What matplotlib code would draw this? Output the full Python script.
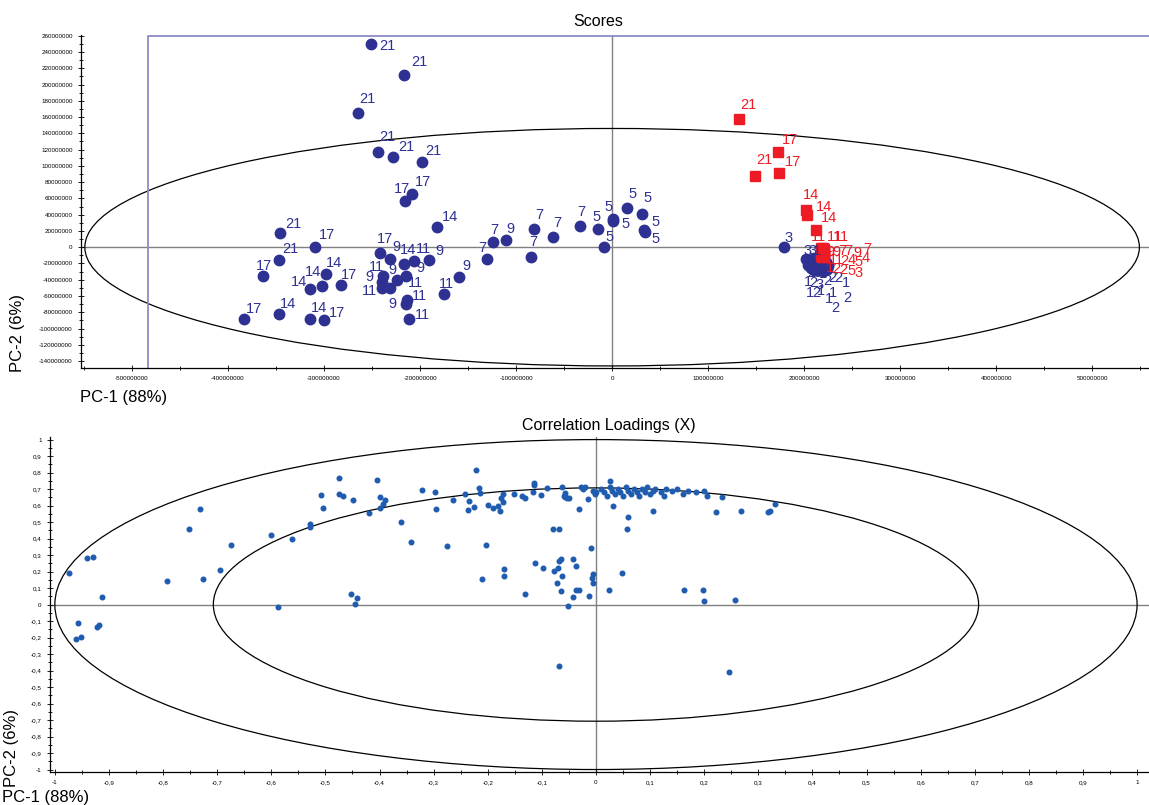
# ============================================================
# PCA scores and correlation loadings, two stacked panels.
# ============================================================

import numpy as np
import matplotlib.pyplot as plt
from matplotlib.patches import Ellipse
from matplotlib.ticker import MultipleLocator, FuncFormatter

plt.rcParams["font.family"] = ["Liberation Sans", "DejaVu Sans"]


# ============================================================
# Scores data (values in millions), blue = circles, red = squares.
# ============================================================

blue_x = [
    -251, -217, -265, -244, -228, -198, -208, -216, -182, -346,
    -309, -347, -364, -298, -302, -315, -282, -383, -347, -315,
    -300, -242, -231, -217, -206, -191, -239, -240, -224, -215,
    -240, -231, -214, -215, -211, -175, -159, -124, -130.5, -110,
    -81.6, -84.7, -61.8, -33, -15, -8, 0.7, 1.4, 16, 31.6,
    33.6, 34.4, 179,
    202.1, 206.3, 210.4, 204.2, 211.5, 216.7, 220.8, 222.9, 225.0, 207.3,
    210.4, 214.6, 218.8, 208.3, 213.5, 217.7, 221.9, 224.0, 219.8, 215.6,
]
blue_y = [
    250, 212, 165, 117, 111, 105, 65, 57, 24.5, 18,
    0, -16, -36, -33.5, -47.5, -51, -46.6, -88, -82, -88,
    -90, -7.7, -15, -20.5, -16.8, -16, -35.6, -42.5, -40.5, -35.6,
    -50.7, -50, -65, -70, -88, -57, -36.8, 6.5, -15, 8.6,
    22.5, -12.6, 12.3, 26, 22, 0, 35, 32.3, 48.7, 41,
    21, 18.8, 0.4,
    -14.7, -18.4, -13.5, -22.1, -23.3, -19.6, -23.3, -18.4, -23.3, -25.8,
    -28.2, -28.2, -25.8, -20.9, -18.4, -14.7, -28.2, -27.0, -29.4, -24.5,
]
blue_labels = [
    "21", "21", "21", "21", "21", "21", "17", "17", "14", "21",
    "17", "21", "17", "14", "14", "14", "17", "17", "14", "14",
    "17", "17", "9", "14", "11", "9", "11", "9", "9", "9",
    "11", "11", "11", "9", "11", "11", "9", "7", "7", "9",
    "7", "7", "7", "7", "5", "5", "5", "5", "5", "5",
    "5", "5", "3",
    "3", "3", "1", "2", "3", "1", "2", "2", "1", "1",
    "2", "3", "2", "1", "2", "1", "1", "2", "1", "2",
]

red_x = [
    132.6, 172.9, 148.6, 173.6, 202.1, 203.4, 212.2,
    217.7, 219.8, 220.8, 217.7, 218.75, 219.8, 220.8, 219.8, 220.8,
    217.7, 218.75, 219.8, 220.8, 220.8, 217.7, 218.75, 219.8, 220.8, 218.75,
]
red_y = [
    157.1, 116.9, 87.5, 91.7, 46.3, 40.1, 20.9,
    -1.2, -1.2, -2.5, -3.7, -4.9, -3.7, -6.1, -7.4, -4.9,
    -7.4, -8.6, -9.8, -9.8, -8.6, -11.0, -12.3, -12.3, -11.0, -11.0,
]
red_labels = [
    "21", "17", "21", "17", "14", "14", "14",
    "11", "11", "11", "9", "9", "7", "7", "9", "7",
    "11", "2", "4", "5", "4", "1", "2", "2", "5", "3",
]

# label offsets in pixels (label centre relative to the point)
blue_offsets = [
    (16.7, -2.3), (15.7, 13), (10, 14), (10, 14.7), (13, 10.3), (11.3, 11.3),
    (11, 12.3), (-2.7, 12), (13, 10.3), (13.3, 9), (11.7, 12.3), (11.3, 11),
    (1.7, 10), (7.7, 11.7), (-8.7, 14), (-11, 6.3), (7.3, 10), (9.3, 9.7),
    (8.7, 9.7), (9.7, 10.7), (13.3, 7.3), (5.3, 14.3), (5.7, 12.7), (4.7, 14.3),
    (9, 12.3), (10.3, 9.3), (-6, 9.3), (-12.3, 5), (-5, 10), (14.7, 7.7),
    (-11.7, -2.3), (24.7, 5), (13.3, 4), (-12.7, 0.3), (12.7, 3.7), (2.3, 10),
    (7.3, 11), (1.3, 12.3), (-4, 11.7), (4.3, 11.7), (5.3, 13.7), (2.7, 15.7),
    (4.7, 14.3), (0.7, 14), (-1, 12.3), (5, 10), (-4.3, 11.7), (11.7, -2.7),
    (5, 14), (5.3, 15.7), (10.7, 8.3), (10.7, -6.7), (4.3, 9.3),
    (1.7, 8.3), (2.3, 11.3), (2.7, 7.3), (3, -8.3), (2.7, -7.3), (2.7, -11),
    (7.7, -12.3), (12.3, -15.7), (18, -16.7), (-3.3, -13.7), (-0.7, -13.3),
    (1.3, -15), (4.7, -13), (-2, -28.7), (-1, -31.3), (0, -32), (8, -23.3),
    (20.3, -29.3), (5.3, -28.3), (16, -41.3),
]
red_offsets = [
    (9, 14), (12, 11.7), (9.6, 15.7), (14.6, 10.6), (4.7, 14.3), (16.7, 7.6),
    (13.3, 11.7),
    (-3, 11), (11, 11), (17, 12), (9, -2), (14, -1), (19, -1), (24, 1),
    (34, 0), (43, 2), (15, -7), (22, -7), (28, -5), (34, -7), (42, -4),
    (9, -12), (14, -12), (20, -13), (27, -15), (36, -17),
]


# ============================================================
# Correlation loadings data.
# ============================================================

load_x = [
    -0.973, -0.940, -0.930, -0.913, -0.958, -0.922, -0.919, -0.952, -0.960,
    -0.793, -0.753, -0.732, -0.726, -0.695, -0.675, -0.601, -0.588, -0.561,
    -0.529, -0.529, -0.509, -0.504, -0.474, -0.474, -0.467, -0.449, -0.453,
    -0.442, -0.446, -0.419, -0.405, -0.400, -0.399, -0.393, -0.389, -0.360,
    -0.342, -0.322, -0.297, -0.295, -0.276, -0.265, -0.242, -0.234, -0.236,
    -0.226, -0.221, -0.216, -0.214, -0.211, -0.204, -0.199, -0.191, -0.181,
    -0.177, -0.176, -0.171, -0.171, -0.170, -0.170, -0.152, -0.137, -0.131,
    -0.131, -0.115, -0.115, -0.117, -0.113, -0.102, -0.097, -0.090, -0.080,
    -0.068, -0.077, -0.072, -0.070, -0.068, -0.065, -0.065, -0.063, -0.063,
    -0.060, -0.057, -0.054, -0.050, -0.058, -0.052, -0.043, -0.043, -0.037,
    -0.036, -0.032, -0.032, -0.028, -0.024, -0.020, -0.014, -0.013, -0.010,
    -0.008, -0.006, -0.006, -0.005, -0.002, 0.000,
    0.010, 0.015, 0.020, 0.025, 0.030, 0.035, 0.040, 0.045, 0.050, 0.055,
    0.060, 0.065, 0.070, 0.075, 0.080, 0.085, 0.090, 0.095, 0.100, 0.105,
    0.110, 0.120, 0.125, 0.130, 0.140, 0.150, 0.160, 0.170, 0.185, 0.200,
    0.205, 0.031, 0.059, 0.057, 0.105, 0.048, 0.024, 0.163, 0.198, 0.200,
    0.257, 0.222, 0.268, 0.318, 0.322, 0.331, 0.233, -0.068, 0.246, 0.026,
]
load_y = [
    0.189, 0.284, 0.288, 0.045, -0.114, -0.136, -0.124, -0.199, -0.211,
    0.144, 0.459, 0.577, 0.153, 0.207, 0.361, 0.419, -0.015, 0.395,
    0.488, 0.468, 0.662, 0.587, 0.765, 0.672, 0.658, 0.633, 0.064,
    0.041, 0.001, 0.553, 0.755, 0.652, 0.587, 0.609, 0.632, 0.498,
    0.381, 0.694, 0.680, 0.581, 0.357, 0.633, 0.670, 0.627, 0.573,
    0.593, 0.815, 0.708, 0.676, 0.153, 0.361, 0.601, 0.585, 0.597,
    0.568, 0.647, 0.621, 0.668, 0.213, 0.173, 0.668, 0.658, 0.647,
    0.065, 0.735, 0.723, 0.680, 0.250, 0.662, 0.219, 0.708, 0.456,
    0.456, 0.201, 0.130, 0.222, 0.267, 0.277, 0.082, 0.173, 0.714,
    0.660, 0.650, 0.645, 0.645, 0.675, -0.007, 0.277, 0.047, 0.233,
    0.088, 0.088, 0.581, 0.715, 0.700, 0.710, 0.638, 0.053, 0.344,
    0.161, 0.185, 0.132, 0.690, 0.670, 0.685,
    0.700, 0.680, 0.660, 0.710, 0.690, 0.670, 0.700, 0.680, 0.660, 0.710,
    0.690, 0.670, 0.700, 0.680, 0.660, 0.700, 0.680, 0.710, 0.670, 0.690,
    0.700, 0.680, 0.660, 0.700, 0.690, 0.700, 0.670, 0.690, 0.680, 0.690,
    0.660, 0.600, 0.530, 0.460, 0.570, 0.190, 0.090, 0.088, 0.088, 0.020,
    0.027, 0.560, 0.570, 0.560, 0.570, 0.610, 0.650, -0.370, -0.410, 0.750,
]


# ============================================================
# Figure layout.
# ============================================================

BLUE = "#2E3192"
RED = "#ED1C24"
DOT = "#1F5CB0"
GRID = "#808080"

fig = plt.figure(figsize=(11.49, 8.05), dpi=100)

ax1 = fig.add_axes([0.0705, 0.5429, 0.9295, 0.4137])
ax2 = fig.add_axes([0.0435, 0.0410, 0.9565, 0.4160])

for ax in (ax1, ax2):
    ax.spines["top"].set_visible(False)
    ax.spines["right"].set_visible(False)
    ax.spines["left"].set_linewidth(0.9)
    ax.spines["bottom"].set_linewidth(0.9)
    ax.tick_params(which="both", labelsize=4.5, direction="inout", width=0.6)
    ax.tick_params(which="major", length=5)
    ax.tick_params(which="minor", length=3)


# ============================================================
# Scores panel.
# ============================================================

M = 1e6
ax1.set_xlim(-553 * M, 559 * M)
ax1.set_ylim(-148.5 * M, 261 * M)

ax1.axhline(0, color=GRID, lw=1, zorder=1)
ax1.axvline(0, color=GRID, lw=1, zorder=1)
ax1.add_patch(Ellipse((0, 0), 2 * 549 * M, 2 * 146 * M,
                      fill=False, ec="black", lw=0.9, zorder=1))

# selection frame
ax1.plot([-483 * M, -483 * M, 560 * M], [-148.5 * M, 260 * M, 260 * M],
         color="#8c8cc8", lw=1.3, clip_on=False, zorder=1)

ax1.plot(np.array(blue_x) * M, np.array(blue_y) * M, "o", color=BLUE,
         ms=7.5, mec=BLUE, zorder=3)
ax1.plot(np.array(red_x) * M, np.array(red_y) * M, "s", color=RED,
         ms=7.5, mec=RED, zorder=4)

for x, y, lab, off in zip(blue_x, blue_y, blue_labels, blue_offsets):
    ax1.annotate(lab, (x * M, y * M), xytext=off, textcoords="offset pixels",
                 ha="center", va="center", fontsize=10.5, color=BLUE, zorder=5)

for x, y, lab, off in zip(red_x, red_y, red_labels, red_offsets):
    ax1.annotate(lab, (x * M, y * M), xytext=off, textcoords="offset pixels",
                 ha="center", va="center", fontsize=10.5, color=RED, zorder=5)

ax1.xaxis.set_major_locator(MultipleLocator(100 * M))
ax1.xaxis.set_minor_locator(MultipleLocator(50 * M))
ax1.yaxis.set_major_locator(MultipleLocator(20 * M))
ax1.yaxis.set_minor_locator(MultipleLocator(10 * M))
ax1.xaxis.set_major_formatter(FuncFormatter(lambda v, p: f"{v:.0f}"))
ax1.yaxis.set_major_formatter(FuncFormatter(lambda v, p: f"{v:.0f}"))


# ============================================================
# Correlation loadings panel.
# ============================================================

ax2.set_xlim(-1.009, 1.022)
ax2.set_ylim(-1.015, 1.015)

ax2.axhline(0, color=GRID, lw=1, zorder=1)
ax2.axvline(0, color=GRID, lw=1, zorder=1)
ax2.add_patch(Ellipse((0, 0), 2, 2, fill=False, ec="black", lw=0.9))
r = np.sqrt(0.5)
ax2.add_patch(Ellipse((0, 0), 2 * r, 2 * r, fill=False, ec="black", lw=0.9))

ax2.plot(load_x, load_y, "o", color=DOT, ms=3.3, mec=DOT, zorder=3)


def comma_fmt(v, pos):
    if abs(v - round(v)) < 1e-9:
        return f"{round(v):d}"
    return f"{v:.1f}".replace(".", ",")


ax2.xaxis.set_major_locator(MultipleLocator(0.1))
ax2.xaxis.set_minor_locator(MultipleLocator(0.05))
ax2.yaxis.set_major_locator(MultipleLocator(0.1))
ax2.yaxis.set_minor_locator(MultipleLocator(0.05))
ax2.xaxis.set_major_formatter(FuncFormatter(comma_fmt))
ax2.yaxis.set_major_formatter(FuncFormatter(comma_fmt))


# ============================================================
# Titles and axis labels.
# ============================================================

W, H = 1149, 805

fig.text(598 / W, 1 - 22 / H, "Scores", ha="center", va="center", fontsize=11.5)
fig.text(609 / W, 1 - 425 / H, "Correlation Loadings (X)",
         ha="center", va="center", fontsize=11.5)

fig.text(18 / W, 1 - 333 / H, "PC-2 (6%)", rotation=90,
         ha="center", va="center", fontsize=12)
fig.text(80 / W, 1 - 397 / H, "PC-1 (88%)", ha="left", va="center", fontsize=12)
fig.text(12 / W, 1 - 748 / H, "PC-2 (6%)", rotation=90,
         ha="center", va="center", fontsize=12)
fig.text(2 / W, 1 - 797 / H, "PC-1 (88%)", ha="left", va="center", fontsize=12)

fig.savefig("out.png", dpi=100)
